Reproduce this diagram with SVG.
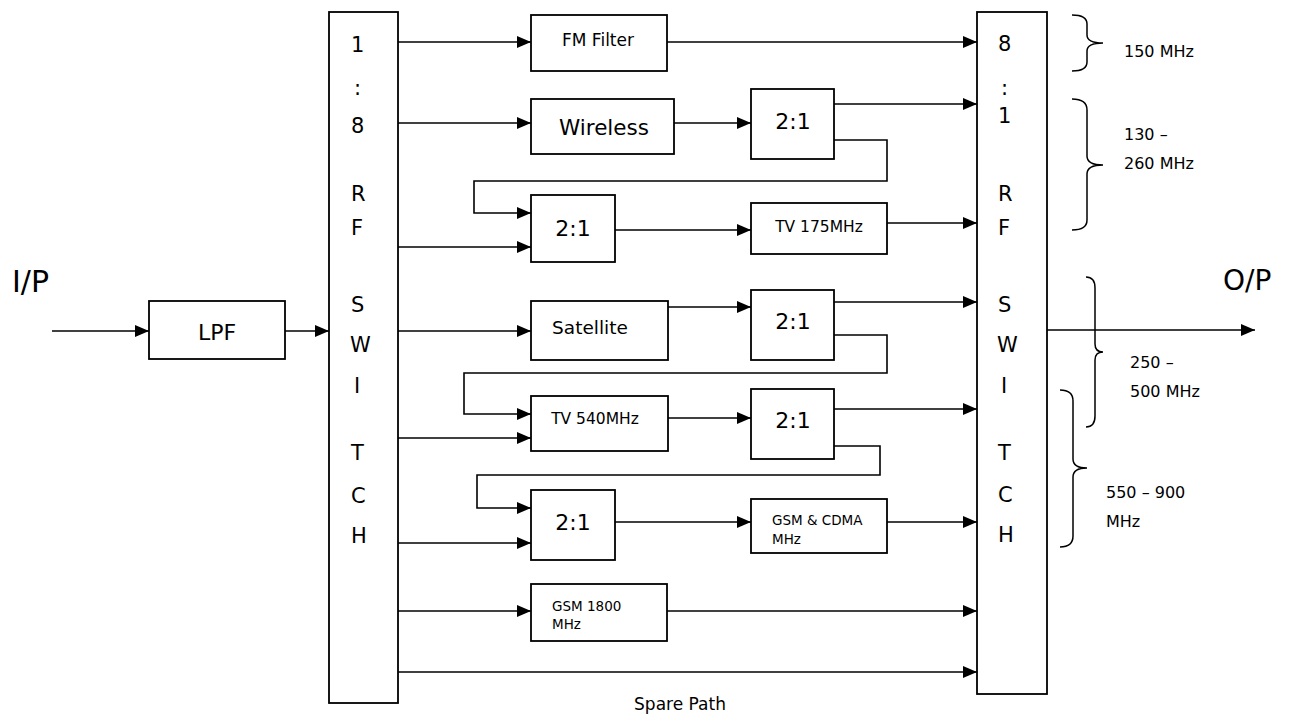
<svg xmlns="http://www.w3.org/2000/svg" width="1292" height="715" viewBox="0 0 1292 715">
<style>
.box{fill:#fff;stroke:#000;stroke-width:1.8}
.ln{fill:none;stroke:#000;stroke-width:1.6}
.arr{fill:none;stroke:#000;stroke-width:1.6;marker-end:url(#ah)}
.br{fill:none;stroke:#000;stroke-width:1.5}
text{font-family:"DejaVu Sans","Liberation Sans",sans-serif;fill:#000}
.sw{font-size:21px}
.c{text-anchor:middle}
.big{font-size:22px}
.sm{font-size:13.5px}
.lab{font-size:16px}
</style>
<defs>
<marker id="ah" markerUnits="userSpaceOnUse" markerWidth="15" markerHeight="13" refX="14" refY="6" orient="auto">
<path d="M0,0 L14,6 L0,12 z" fill="#000"/>
</marker>
</defs>
<rect width="1292" height="715" fill="#fff"/>

<g id="connectors">
<line class="arr" x1="52" y1="331" x2="149" y2="331"/>
<line class="arr" x1="285" y1="331" x2="329" y2="331"/>
<line class="arr" x1="398" y1="42" x2="531" y2="42"/>
<line class="arr" x1="398" y1="123" x2="531" y2="123"/>
<line class="arr" x1="398" y1="247" x2="531" y2="247"/>
<line class="arr" x1="398" y1="331" x2="531" y2="331"/>
<line class="arr" x1="398" y1="438" x2="531" y2="438"/>
<line class="arr" x1="398" y1="543" x2="531" y2="543"/>
<line class="arr" x1="398" y1="611" x2="531" y2="611"/>
<line class="arr" x1="398" y1="672" x2="977" y2="672"/>
<line class="arr" x1="667" y1="42" x2="977" y2="42"/>
<line class="arr" x1="674" y1="123" x2="751" y2="123"/>
<line class="arr" x1="834" y1="104" x2="977" y2="104"/>
<polyline class="arr" points="834,140 887,140 887,181 474,181 474,213 531,213"/>
<line class="arr" x1="615" y1="230" x2="751" y2="230"/>
<line class="arr" x1="887" y1="223" x2="977" y2="223"/>
<line class="arr" x1="668" y1="307" x2="751" y2="307"/>
<line class="arr" x1="834" y1="302" x2="977" y2="302"/>
<polyline class="arr" points="834,335 887,335 887,373 464,373 464,414 531,414"/>
<line class="arr" x1="668" y1="418" x2="751" y2="418"/>
<line class="arr" x1="834" y1="409" x2="977" y2="409"/>
<polyline class="arr" points="834,446 880,446 880,475 477,475 477,508 531,508"/>
<line class="arr" x1="615" y1="522" x2="751" y2="522"/>
<line class="arr" x1="887" y1="522" x2="977" y2="522"/>
<line class="arr" x1="667" y1="611" x2="977" y2="611"/>
<line class="arr" x1="1047" y1="330" x2="1255" y2="330"/>
</g>

<g id="io-labels">
<text x="12" y="292" style="font-size:30px">I/P</text>
<text x="1223" y="290" style="font-size:28px">O/P</text>
<text x="680" y="710" class="c" style="font-size:17px">Spare Path</text>
</g>

<g id="lpf">
<rect class="box" x="149" y="301" width="136" height="58"/>
<text x="217" y="340" class="c big">LPF</text>
</g>

<g id="switch-in">
<rect class="box" x="329" y="12" width="69" height="691"/>
<g class="sw">
<text x="351" y="52">1</text>
<text x="354" y="95">:</text>
<text x="351" y="133">8</text>
<text x="351" y="201">R</text>
<text x="351" y="235">F</text>
<text x="351" y="312">S</text>
<text x="350" y="352">W</text>
<text x="354" y="393">I</text>
<text x="351" y="460">T</text>
<text x="351" y="503">C</text>
<text x="351" y="543">H</text>
</g>
</g>

<g id="switch-out">
<rect class="box" x="977" y="12" width="70" height="682"/>
<g class="sw">
<text x="998" y="51">8</text>
<text x="1001" y="95">:</text>
<text x="998" y="123">1</text>
<text x="998" y="201">R</text>
<text x="998" y="235">F</text>
<text x="998" y="312">S</text>
<text x="997" y="352">W</text>
<text x="1001" y="393">I</text>
<text x="998" y="460">T</text>
<text x="998" y="502">C</text>
<text x="998" y="542">H</text>
</g>
</g>

<g id="fm-filter">
<rect class="box" x="531" y="15" width="136" height="56"/>
<text x="598" y="46" class="c" style="font-size:17px">FM Filter</text>
</g>

<g id="wireless">
<rect class="box" x="531" y="99" width="143" height="55"/>
<text x="604" y="135" class="c" style="font-size:21.5px">Wireless</text>
</g>

<g id="mux-1">
<rect class="box" x="751" y="89" width="83" height="70"/>
<text x="793" y="129" class="c big">2:1</text>
</g>

<g id="mux-2">
<rect class="box" x="531" y="195" width="84" height="67"/>
<text x="573" y="236" class="c big">2:1</text>
</g>

<g id="tv175">
<rect class="box" x="751" y="203" width="136" height="51"/>
<text x="819" y="232" class="c" style="font-size:15.5px">TV 175MHz</text>
</g>

<g id="satellite">
<rect class="box" x="531" y="301" width="137" height="59"/>
<text x="590" y="334" class="c" style="font-size:18.5px">Satellite</text>
</g>

<g id="mux-3">
<rect class="box" x="751" y="290" width="83" height="70"/>
<text x="793" y="329" class="c big">2:1</text>
</g>

<g id="tv540">
<rect class="box" x="531" y="396" width="137" height="55"/>
<text x="595" y="424" class="c" style="font-size:15.5px">TV 540MHz</text>
</g>

<g id="mux-4">
<rect class="box" x="751" y="389" width="83" height="70"/>
<text x="793" y="428" class="c big">2:1</text>
</g>

<g id="mux-5">
<rect class="box" x="531" y="490" width="84" height="70"/>
<text x="573" y="530" class="c big">2:1</text>
</g>

<g id="gsm-cdma">
<rect class="box" x="751" y="499" width="136" height="54"/>
<text x="772" y="525" class="sm">GSM &amp; CDMA</text>
<text x="772" y="544" class="sm">MHz</text>
</g>

<g id="gsm1800">
<rect class="box" x="531" y="584" width="136" height="57"/>
<text x="552" y="611" class="sm">GSM 1800</text>
<text x="552" y="629" class="sm">MHz</text>
</g>

<g id="band-150">
<path class="br" d="M1072,15 Q1087,15 1087,24 L1087,35 Q1087,43 1103,43 Q1087,43 1087,51 L1087,62 Q1087,71 1072,71"/>
<text x="1124" y="57" class="lab">150 MHz</text>
</g>

<g id="band-130">
<path class="br" d="M1072,99 Q1087,99 1087,110 L1087,156 Q1087,165 1103,165 Q1087,165 1087,174 L1087,220 Q1087,230 1072,230"/>
<text x="1124" y="140" class="lab">130 –</text>
<text x="1124" y="169" class="lab">260 MHz</text>
</g>

<g id="band-250">
<path class="br" d="M1086,277 Q1095,277 1095,288 L1095,344 Q1095,352 1103,352 Q1095,352 1095,360 L1095,416 Q1095,427 1086,427"/>
<text x="1130" y="368" class="lab">250 –</text>
<text x="1130" y="397" class="lab">500 MHz</text>
</g>

<g id="band-550">
<path class="br" d="M1060,390 Q1073,390 1073,401 L1073,459 Q1073,468 1087,468 Q1073,468 1073,477 L1073,536 Q1073,547 1060,547"/>
<text x="1106" y="498" class="lab">550 – 900</text>
<text x="1106" y="527" class="lab">MHz</text>
</g>
</svg>
